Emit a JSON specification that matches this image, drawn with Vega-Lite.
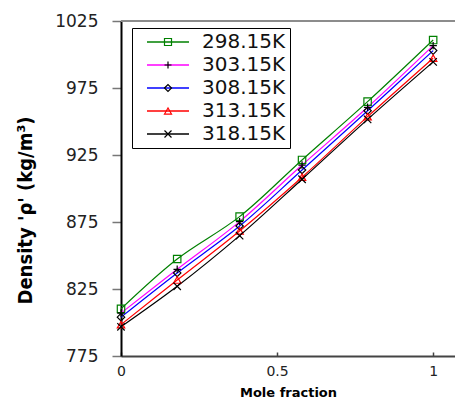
{
  "$schema": "https://vega.github.io/schema/vega-lite/v6.json",
  "width": 334,
  "height": 335,
  "autosize": {"type": "none"},
  "padding": {"left": 121, "top": 21, "right": 0, "bottom": 45},
  "background": "white",
  "config": {"view": {"stroke": null}, "font": "DejaVu Sans"},
  "data": {
    "values": [
      {"T": "298.15K", "x": 0, "rho": 810.2},
      {"T": "298.15K", "x": 0.18, "rho": 847.4},
      {"T": "298.15K", "x": 0.38, "rho": 879.0},
      {"T": "298.15K", "x": 0.58, "rho": 921.3},
      {"T": "298.15K", "x": 0.79, "rho": 964.8},
      {"T": "298.15K", "x": 1, "rho": 1010.8},
      {"T": "303.15K", "x": 0, "rho": 807.0},
      {"T": "303.15K", "x": 0.18, "rho": 839.7},
      {"T": "303.15K", "x": 0.38, "rho": 875.3},
      {"T": "303.15K", "x": 0.58, "rho": 917.5},
      {"T": "303.15K", "x": 0.79, "rho": 960.6},
      {"T": "303.15K", "x": 1, "rho": 1006.6},
      {"T": "308.15K", "x": 0, "rho": 804.0},
      {"T": "308.15K", "x": 0.18, "rho": 837.0},
      {"T": "308.15K", "x": 0.38, "rho": 872.0},
      {"T": "308.15K", "x": 0.58, "rho": 913.8},
      {"T": "308.15K", "x": 0.79, "rho": 958.0},
      {"T": "308.15K", "x": 1, "rho": 1002.9},
      {"T": "313.15K", "x": 0, "rho": 798.4},
      {"T": "313.15K", "x": 0.18, "rho": 831.7},
      {"T": "313.15K", "x": 0.38, "rho": 868.3},
      {"T": "313.15K", "x": 0.58, "rho": 908.4},
      {"T": "313.15K", "x": 0.79, "rho": 953.6},
      {"T": "313.15K", "x": 1, "rho": 997.2},
      {"T": "318.15K", "x": 0, "rho": 796.8},
      {"T": "318.15K", "x": 0.18, "rho": 827.0},
      {"T": "318.15K", "x": 0.38, "rho": 864.8},
      {"T": "318.15K", "x": 0.58, "rho": 906.9},
      {"T": "318.15K", "x": 0.79, "rho": 951.6},
      {"T": "318.15K", "x": 1, "rho": 994.5}
    ]
  },
  "layer": [
    {
      "mark": {"type": "line", "interpolate": "catmull-rom", "strokeWidth": 1.2},
      "encoding": {
        "x": {
          "field": "x", "type": "quantitative",
          "scale": {"domain": [0, 1.07], "nice": false, "zero": false},
          "axis": {
            "values": [0, 0.5, 1], "format": "~g", "title": "Mole fraction", "grid": false,
            "domainColor": "#444", "domainWidth": 2,
            "tickColor": "#444", "tickSize": -4, "tickWidth": 1.5,
            "labelFont": "DejaVu Sans", "labelFontSize": 14, "labelPadding": 12, "labelColor": "#222", "labelFlush": false,
            "titleFont": "DejaVu Sans", "titleFontSize": 13, "titleFontWeight": "bold", "titlePadding": 8, "titleColor": "black"
          }
        },
        "y": {
          "field": "rho", "type": "quantitative",
          "scale": {"domain": [775, 1025], "nice": false, "zero": false},
          "axis": {
            "values": [775, 825, 875, 925, 975, 1025], "format": "d", "title": "Density 'ρ' (kg/m³)", "grid": false,
            "domainColor": "black", "domainWidth": 2,
            "tickColor": "#777", "tickSize": 9, "tickWidth": 1.5,
            "labelFont": "DejaVu Sans", "labelFontSize": 17, "labelPadding": 14, "labelColor": "#222",
            "titleFont": "Liberation Sans Narrow, DejaVu Sans Condensed, Liberation Sans", "titleFontSize": 20, "titleFontWeight": "bold", "titleColor": "black",
            "titleX": -96, "titleY": 189, "titleAngle": -90, "titleAlign": "center", "titleBaseline": "middle"
          }
        },
        "color": {
          "field": "T", "type": "nominal",
          "scale": {"domain": ["298.15K", "303.15K", "308.15K", "313.15K", "318.15K"], "range": ["#008000", "#ff00ff", "#0000ff", "#ff0000", "#000000"]},
          "legend": {
            "orient": "none", "legendX": 11, "legendY": 7, "title": null,
            "symbolType": "M-6,0H6", "symbolSize": 49, "symbolStrokeWidth": 1.5,
            "labelFont": "DejaVu Sans", "labelFontSize": 20, "labelColor": "#111", "labelOffset": 24, "labelLimit": 300,
            "padding": 4, "symbolOffset": 22, "rowPadding": 3,
            "strokeColor": "black", "fillColor": "white"
          }
        }
      }
    },
    {
      "mark": {"type": "point", "filled": false, "strokeWidth": 1.2, "size": 55, "opacity": 1},
      "encoding": {
        "x": {"field": "x", "type": "quantitative"},
        "y": {"field": "rho", "type": "quantitative"},
        "stroke": {
          "field": "T", "type": "nominal",
          "scale": {"range": ["#008000", "#000000", "#000000", "#ff0000", "#000000"]},
          "legend": {
            "orient": "none", "legendX": 11, "legendY": 7, "title": null,
            "symbolSize": 49, "symbolStrokeWidth": 1.2, "symbolFillColor": "transparent",
            "labelFont": "DejaVu Sans", "labelFontSize": 20, "labelOpacity": 0, "labelOffset": 24, "labelLimit": 300,
            "padding": 4, "symbolOffset": 22, "rowPadding": 3
          }
        },
        "shape": {
          "field": "T", "type": "nominal",
          "scale": {"range": ["square", "M-1,0H1M0,-1V1", "diamond", "triangle-up", "M-1,-1L1,1M-1,1L1,-1"]},
          "legend": {
            "orient": "none", "legendX": 11, "legendY": 7, "title": null,
            "symbolSize": 49, "symbolStrokeWidth": 1.2, "symbolFillColor": "transparent",
            "labelFont": "DejaVu Sans", "labelFontSize": 20, "labelOpacity": 0, "labelOffset": 24, "labelLimit": 300,
            "padding": 4, "symbolOffset": 22, "rowPadding": 3
          }
        }
      }
    },
    {
      "mark": {"type": "rule", "color": "#8c8c8c", "strokeWidth": 2},
      "encoding": {"y": {"datum": 1025}}
    }
  ]
}
